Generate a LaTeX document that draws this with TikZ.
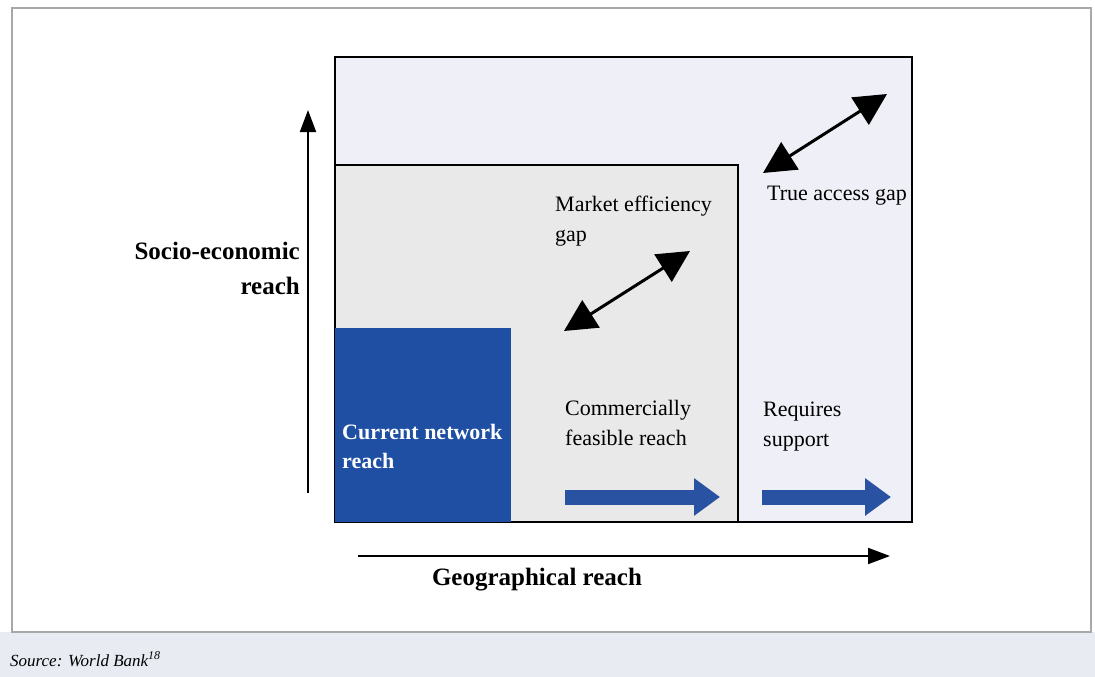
\documentclass[tikz,border=0pt]{standalone}
\usepackage{fontspec}
\setmainfont{Liberation Serif}
\usetikzlibrary{arrows.meta}
\definecolor{lav}{HTML}{EFEFF7}
\definecolor{midgray}{HTML}{E9E9EA}
\definecolor{netblue}{HTML}{1F4FA3}
\definecolor{arrblue}{HTML}{2A52A2}
\definecolor{strip}{HTML}{E8ECF2}
\definecolor{framegray}{HTML}{A8A8A8}
\tikzset{
  lbl/.style={font=\fontsize{22}{30}\selectfont, align=left, inner sep=0pt, anchor=north west},
  blbl/.style={font=\fontsize{25}{34}\selectfont\bfseries, inner sep=0pt},
  axis/.style={line width=2pt, -{Triangle[length=22pt,width=16pt]}},
  gap/.style={line width=3pt, {Triangle[length=32pt,width=32pt]}-{Triangle[length=32pt,width=32pt]}},
  fat/.style={line width=15pt, arrblue, -{Triangle[length=26pt,width=36pt]}},
}
\begin{document}
\begin{tikzpicture}[x=1pt,y=-1pt]
\useasboundingbox (0,0) rectangle (1095,677);
\fill[white] (0,0) rectangle (1095,677);
\fill[strip] (0,632) rectangle (1095,677);
\draw[framegray, line width=1.5pt] (12,8) rectangle (1091,632);
% regions
\draw[fill=lav, line width=1.5pt] (335,57) rectangle (912,522);
\draw[fill=midgray, line width=1.5pt] (335,165) rectangle (738,522);
\fill[netblue] (335,328) rectangle (511,522);
% axes
\coordinate (ybot) at (308,493);
\coordinate (ytop) at (308,110);
\coordinate (xl) at (358,556);
\coordinate (xr) at (890,556);
\draw[axis] (ybot) -- (ytop);
\draw[axis] (xl) -- (xr);
% labels
\node[blbl, anchor=base east] (se1) at (300,259) {Socio-economic};
\node[blbl, anchor=base east] (se2) at (300,294) {reach};
\node[blbl, anchor=base] (geo) at (537,585) {Geographical reach};
\node[lbl] (meg) at (555,196) {Market efficiency\\gap};
\node[lbl] (tag) at (767,186) {True access gap};
\node[lbl, text=white, font=\fontsize{22}{29}\selectfont\bfseries] (cnr) at (342,424) {Current network\\reach};
\node[lbl] (cfr) at (565,400) {Commercially\\feasible reach};
\node[lbl] (rs) at (763,402) {Requires\\support};
% gap arrows
\coordinate (g1a) at (564,331);
\coordinate (g1b) at (690,251);
\coordinate (g2a) at (763,173);
\coordinate (g2b) at (887,94);
\draw[gap] (g1a) -- (g1b);
\draw[gap] (g2a) -- (g2b);
% blue arrows
\coordinate (b1a) at (565,497);
\coordinate (b1b) at (720,497);
\coordinate (b2a) at (762,497);
\coordinate (b2b) at (891,497);
\draw[fat] (b1a) -- (b1b);
\draw[fat] (b2a) -- (b2b);
% source
\node[font=\fontsize{17}{19}\selectfont\itshape, anchor=base west, inner sep=0pt] (src) at (10,666) {Source: World Bank\textsuperscript{18}};
\end{tikzpicture}
\end{document}
